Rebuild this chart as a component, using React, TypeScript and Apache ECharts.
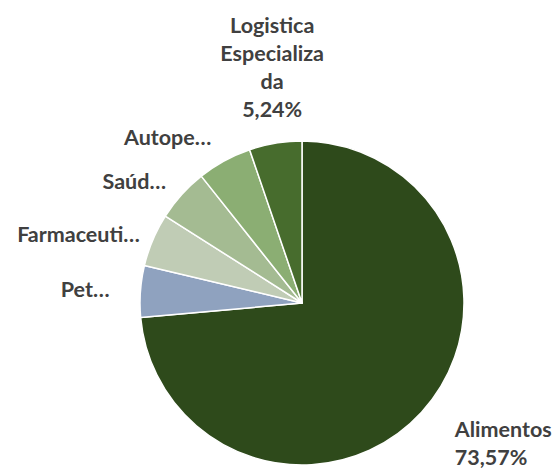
import React, { useEffect, useRef } from "react";
import * as echarts from "echarts";

const categories = ["Alimentos", "Pet", "Farmaceutico", "Saúde", "Autopeças", "Logistica Especializada"];
const displayNames = ["Alimentos", "Pet…", "Farmaceuti…", "Saúd…", "Autope…", "Logistica\nEspecializa\nda"];
const values = [73.57, 5.15, 5.30, 5.30, 5.44, 5.24];
const showPercent = [true, false, false, false, false, true];
const colors = ["#2e4a1b", "#8fa2bf", "#c0ccb5", "#a4bb92", "#8bae73", "#476c2d"];
const labelGaps = [45, 31, 14, 21, 27, 20];

const CX = 302;
const CY = 303;
const R = 162;

export default function App() {
  const ref = useRef<HTMLDivElement>(null);
  useEffect(() => {
    document.body.style.margin = "0";
    const chart = echarts.init(ref.current!, null, { renderer: "svg" });
    const total = values.reduce((a, b) => a + b, 0);
    const mids: number[] = [];
    let acc = 0;
    values.forEach((v) => {
      mids.push(((acc + v / 2) / total) * Math.PI * 2);
      acc += v;
    });
    chart.setOption({
      animation: false,
      backgroundColor: "#ffffff",
      series: [
        {
          type: "pie",
          center: [CX, CY],
          radius: [0, R],
          startAngle: 90,
          clockwise: true,
          avoidLabelOverlap: false,
          itemStyle: { borderColor: "#ffffff", borderWidth: 1.5 },
          label: {
            show: true,
            position: "outside",
            fontFamily: "Lato, 'Open Sans', sans-serif",
            fontWeight: "bold",
            fontSize: 21.5,
            lineHeight: 28,
            color: "#404040",
            formatter: (p: any) => {
              const i = p.dataIndex;
              const pct = values[i].toFixed(2).replace(".", ",") + "%";
              return showPercent[i] ? displayNames[i] + "\n" + pct : displayNames[i];
            },
          },
          labelLine: { show: false },
          labelLayout: (p: any) => {
            const i = p.dataIndex;
            const m = mids[i];
            const s = Math.sin(m);
            const c = Math.cos(m);
            const rr = R + labelGaps[i];
            const x = CX + rr * s;
            const y = CY - rr * c;
            if (Math.abs(s) < 0.35 && c > 0) {
              return { x, y, align: "center", verticalAlign: "bottom" };
            }
            return { x, y, align: s > 0 ? "left" : "right", verticalAlign: "middle" };
          },
          data: categories.map((name, i) => ({
            name,
            value: values[i],
            itemStyle: { color: colors[i] },
          })),
        },
      ],
    });
    return () => chart.dispose();
  }, []);
  return <div ref={ref} style={{ width: 559, height: 470 }} />;
}
